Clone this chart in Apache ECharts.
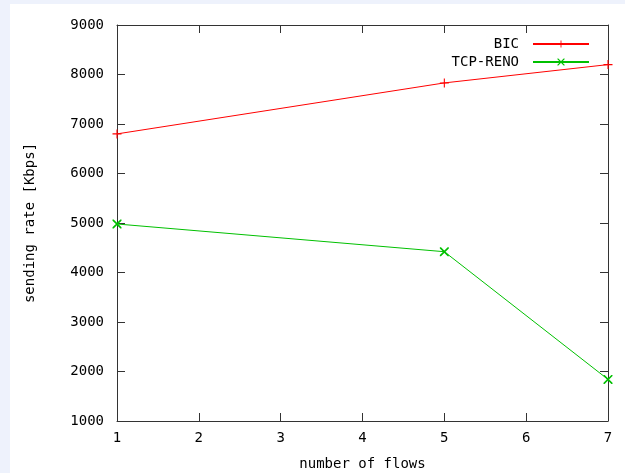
<!DOCTYPE html>
<html>
<head>
<meta charset="utf-8">
<script src="https://cdn.jsdelivr.net/npm/echarts@6.0.0/dist/echarts.min.js"></script>
<style>
  html, body { margin: 0; padding: 0; background: #eef2fc; }
  #frame { position: absolute; left: 10px; top: 4px; width: 615px; height: 469px; background: #fff; }
  #chart { width: 615px; height: 469px; }
</style>
</head>
<body>
<div id="frame"><div id="chart"></div></div>
<script>
// number of flows on x, sending rate in Kbps on y
const flows = [1, 5, 7];
const bicRate = [6800, 7830, 8200];
const renoRate = [4980, 4420, 1840];
const xTicks = [1, 2, 3, 4, 5, 6, 7];

const FONT = 'DejaVu Sans Mono';
const AXIS_COLOR = '#333';

// gnuplot style point markers
const plusMark = 'path://M0,4.4L10,4.4L10,5.6L0,5.6Z M4.4,0L5.6,0L5.6,10L4.4,10Z';
const crossMark = 'path://M0,0L1.3,0L10,8.7L10,10L8.7,10L0,1.3Z M8.7,0L10,0L10,1.3L1.3,10L0,10L0,8.7Z';

const chart = echarts.init(document.getElementById('chart'));

const tickStyle = { show: true, inside: true, length: 8, lineStyle: { color: AXIS_COLOR } };
const lineStyle = { show: true, lineStyle: { color: AXIS_COLOR, width: 1 } };

const xBase = {
    type: 'value',
    min: xTicks[0],
    max: xTicks[xTicks.length - 1],
    interval: 1,
    splitLine: { show: false },
    axisLine: lineStyle,
    axisTick: tickStyle
};
const yBase = {
    type: 'value',
    min: 1000,
    max: 9000,
    interval: 1000,
    splitLine: { show: false },
    axisLine: lineStyle,
    axisTick: tickStyle
};

const option = {
    animation: false,
    textStyle: { fontFamily: FONT, color: '#000' },
    grid: { left: 107, right: 17, top: 21, bottom: 52, outerBoundsMode: 'none' },
    legend: {
        orient: 'vertical',
        right: 30,
        top: 28,
        align: 'right',
        itemWidth: 56,
        itemHeight: 9,
        itemGap: 4,
        textStyle: { fontFamily: FONT, fontSize: 14, color: '#000', padding: [0, 9, 0, 0] },
        data: ['BIC', 'TCP-RENO']
    },
    xAxis: [
        Object.assign({}, xBase, {
            position: 'bottom',
            name: 'number of flows',
            nameLocation: 'middle',
            nameGap: 36,
            nameTextStyle: { fontFamily: FONT, fontSize: 14, color: '#000' },
            axisLabel: { fontFamily: FONT, fontSize: 14, color: '#000', margin: 10 }
        }),
        Object.assign({}, xBase, { position: 'top', axisLabel: { show: false } })
    ],
    yAxis: [
        Object.assign({}, yBase, {
            position: 'left',
            name: 'sending rate [Kbps]',
            nameLocation: 'middle',
            nameGap: 80,
            nameTextStyle: { fontFamily: FONT, fontSize: 14, color: '#000' },
            axisLabel: { fontFamily: FONT, fontSize: 14, color: '#000', margin: 13, formatter: v => String(v) }
        }),
        Object.assign({}, yBase, { position: 'right', axisLabel: { show: false } })
    ],
    series: [
        {
            name: 'BIC',
            type: 'line',
            data: flows.map((f, i) => [f, bicRate[i]]),
            symbol: plusMark,
            symbolSize: 9,
            color: '#ff0000',
            lineStyle: { width: 1, color: '#ff0000' },
            itemStyle: { color: '#ff0000' }
        },
        {
            name: 'TCP-RENO',
            type: 'line',
            data: flows.map((f, i) => [f, renoRate[i]]),
            symbol: crossMark,
            symbolSize: 9,
            color: '#00c000',
            lineStyle: { width: 1, color: '#00c000' },
            itemStyle: { color: '#00c000' }
        }
    ]
};

chart.setOption(option);
</script>
</body>
</html>
